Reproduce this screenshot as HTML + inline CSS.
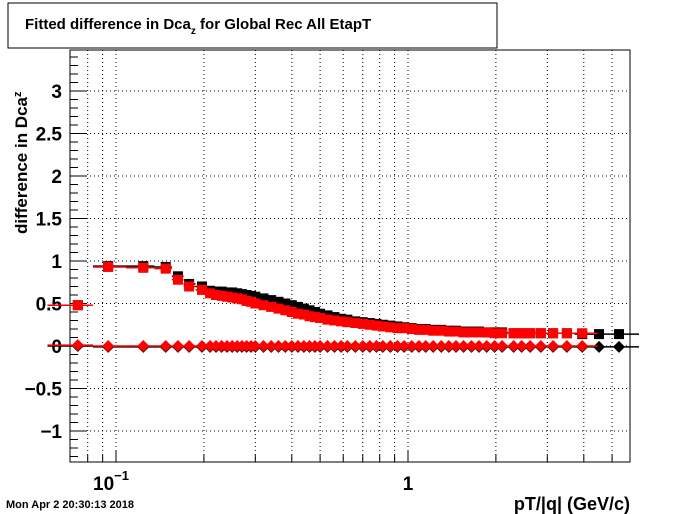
<!DOCTYPE html>
<html><head><meta charset="utf-8"><style>
body{margin:0;background:#fff;}
svg{display:block;font-family:"Liberation Sans","DejaVu Sans",sans-serif;font-weight:bold;}
</style></head><body>
<svg id="c" width="700" height="514" viewBox="0 0 700 514">
<rect x="0" y="0" width="700" height="514" fill="#fff"/>
<g>
<rect x="8" y="3" width="489" height="45" fill="#fff" stroke="#000" stroke-width="1"/>
<text x="25" y="29" font-size="15">Fitted difference in Dca<tspan font-size="10" dy="5">z</tspan><tspan dy="-5"> for Global Rec All EtapT</tspan></text>
</g>
<g id="grid"></g>
<g id="axes"></g>
<g id="marks"></g>
<text transform="translate(27,234) rotate(-90)" font-size="17">difference in Dca<tspan font-size="11" dy="-6">z</tspan></text>
<text x="630" y="510" text-anchor="end" font-size="18">pT/|q| (GeV/c)</text>
<text x="6" y="508" font-size="11">Mon Apr  2 20:30:13 2018</text>
</svg>
<script>
const ptR=[0.074,0.094,0.124,0.148,0.163,0.178,0.197,0.21,0.22,0.23,0.24,0.25,0.26,0.27,0.28,0.29,0.30,0.32,0.34,0.36,0.38,0.40,0.42,0.44,0.46,0.48,0.50,0.53,0.56,0.59,0.62,0.66,0.70,0.74,0.78,0.82,0.87,0.92,0.97,1.03,1.09,1.15,1.22,1.30,1.38,1.46,1.55,1.65,1.75,1.86,1.98,2.1,2.3,2.45,2.62,2.85,3.14,3.5,3.95];
const valR=[0.48,0.93,0.92,0.91,0.78,0.70,0.66,0.62,0.60,0.59,0.58,0.57,0.56,0.55,0.53,0.52,0.50,0.48,0.46,0.44,0.42,0.40,0.38,0.37,0.35,0.34,0.33,0.31,0.30,0.29,0.28,0.27,0.26,0.25,0.24,0.23,0.22,0.21,0.21,0.20,0.19,0.19,0.18,0.18,0.17,0.17,0.16,0.16,0.16,0.16,0.15,0.15,0.15,0.15,0.15,0.15,0.15,0.15,0.15];
const ptB=[0.074,0.094,0.124,0.148,0.163,0.178,0.197,0.21,0.22,0.23,0.24,0.25,0.26,0.27,0.28,0.29,0.30,0.32,0.34,0.36,0.38,0.40,0.42,0.44,0.46,0.48,0.50,0.53,0.56,0.59,0.62,0.66,0.70,0.74,0.78,0.82,0.87,0.92,0.97,1.03,1.09,1.15,1.22,1.30,1.38,1.46,1.55,1.65,1.75,1.86,1.98,2.1,2.3,2.45,2.62,2.85,3.14,3.5,3.95,4.51,5.28];
const valB=[0.48,0.94,0.94,0.93,0.82,0.73,0.70,0.65,0.64,0.64,0.63,0.63,0.62,0.61,0.60,0.59,0.58,0.56,0.54,0.52,0.50,0.48,0.46,0.44,0.42,0.40,0.38,0.36,0.34,0.32,0.31,0.29,0.28,0.27,0.26,0.25,0.24,0.23,0.22,0.21,0.20,0.20,0.19,0.19,0.18,0.18,0.17,0.17,0.17,0.16,0.16,0.16,0.15,0.15,0.15,0.15,0.15,0.15,0.14,0.14,0.14];
const diaR=[0.01,0.0,0.0,0.0,0.0,0.0,0.0,0.0,0.0,0.0,0.0,0.0,0.0,0.0,0.0,0.0,0.0,0.0,0.0,0.0,0.0,0.0,0.0,0.0,0.0,0.0,0.0,0.0,0.0,0.0,0.0,0.0,0.0,0.0,0.0,0.0,0.0,0.0,0.0,0.0,0.0,0.0,0.0,0.0,0.0,0.0,0.0,0.0,0.0,0.0,0.0,0.0,0.0,0.0,0.0,0.0,0.0,0.0,0.0];
const diaB=[0.0,-0.01,-0.01,-0.01,-0.01,-0.01,-0.01,-0.01,-0.01,-0.01,-0.01,-0.01,-0.01,-0.01,-0.01,-0.01,-0.01,-0.01,-0.01,-0.01,-0.01,-0.01,-0.01,-0.01,-0.01,-0.01,-0.01,-0.01,-0.01,-0.01,-0.01,-0.01,-0.01,-0.01,-0.01,-0.01,-0.01,-0.01,-0.01,-0.01,-0.01,-0.01,-0.01,-0.01,-0.01,-0.01,-0.01,-0.01,-0.01,-0.01,-0.01,-0.01,-0.01,-0.01,-0.01,-0.01,-0.01,-0.01,-0.01,-0.01,-0.01];
const yTicks=[-1,-0.5,0,0.5,1,1.5,2,2.5,3];
const yTickLabels=["\u22121","\u22120.5","0","0.5","1","1.5","2","2.5","3"];
const xMinor=[0.08,0.09,0.2,0.3,0.4,0.5,0.6,0.7,0.8,0.9,2,3,4,5];
const xMajor=[0.1,1];

const NS="http://www.w3.org/2000/svg";
const L=70,R=630,T=50,B=462;
const X=p=>408+292*Math.log10(p);
const Y=v=>346-85*v;
function mk(tag,attrs,parent){const e=document.createElementNS(NS,tag);for(const k in attrs)e.setAttribute(k,attrs[k]);parent.appendChild(e);return e;}
const grid=document.getElementById('grid'),axes=document.getElementById('axes'),marks=document.getElementById('marks');

xMinor.concat(xMajor).forEach(p=>{
 const l=mk('line',{x1:X(p),x2:X(p),y1:T,y2:B,stroke:'#000','stroke-width':1,'stroke-dasharray':'1,3'},grid);
 
 
 const big=xMajor.includes(p);
 const t=mk('line',{x1:X(p),x2:X(p),y1:B,y2:B-(big?12:7),stroke:'#000','stroke-width':1},axes);
 
 
});
yTicks.forEach((v,i)=>{
 const l=mk('line',{x1:L,x2:R,y1:Y(v),y2:Y(v),stroke:'#000','stroke-width':1,'stroke-dasharray':'1,3'},grid);
 
 
 const t=mk('line',{x1:L,x2:L+16,y1:Y(v),y2:Y(v),stroke:'#000','stroke-width':1},axes);
 
 
 const tx=mk('text',{x:62,y:Y(v)+7,'text-anchor':'end','font-size':19},axes);
 tx.textContent=yTickLabels[i];
 
 
});
for(let k=-13;k<=34;k++){ if(k%5===0)continue; const v=k/10;
 const t=mk('line',{x1:L,x2:L+8,y1:Y(v),y2:Y(v),stroke:'#000','stroke-width':1},axes);
 
 
}
const fr=mk('rect',{x:L,y:T,width:R-L,height:B-T,fill:'none',stroke:'#000','stroke-width':1},axes);


const xl1=mk('text',{x:93,y:490,'font-size':19},axes);
xl1.innerHTML='10<tspan font-size="13" dy="-10">\u22121</tspan>';


const xl2=mk('text',{x:408,y:490,'text-anchor':'middle','font-size':19},axes);
xl2.textContent='1';



function series(pts,vals,color,shape,name){
 const g=mk('g',{},marks);
 
 
 pts.forEach((p,i)=>{
  const lo=i>0?Math.sqrt(pts[i-1]*p):p*p/pts[i+1];
  const hi=i<pts.length-1?Math.sqrt(pts[i+1]*p):p*p/pts[i-1];
  const x=X(p),y=Y(vals[i]);
  const eb=mk('line',{x1:X(lo),x2:X(hi),y1:y,y2:y,stroke:color,'stroke-width':1.5},g);
  
  
  let m;
  if(shape==='sq'){m=mk('rect',{x:x-5,y:y-5,width:10,height:10,fill:color},g);}
  else{m=mk('polygon',{points:`${x},${y-6} ${x+6},${y} ${x},${y+6} ${x-6},${y}`,fill:color},g);}
  
  
 });
}
series(ptB,valB,'#000','sq','black-squares');
series(ptR,valR,'#f00','sq','red-squares');
series(ptB,diaB,'#000','dia','black-diamonds');
series(ptR,diaR,'#f00','dia','red-diamonds');
</script>
</body></html>
